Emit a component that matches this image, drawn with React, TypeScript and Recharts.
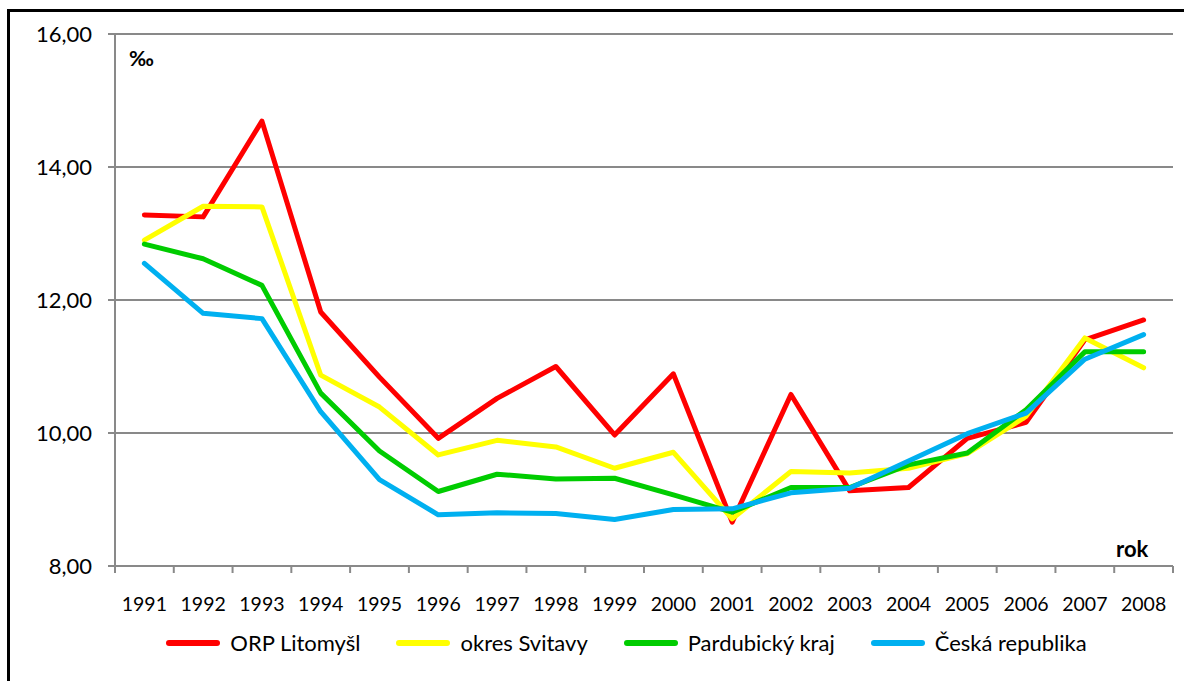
import { CartesianGrid, Legend, Line, LineChart, XAxis, YAxis } from "recharts";

const years = ["1991", "1992", "1993", "1994", "1995", "1996", "1997", "1998", "1999", "2000", "2001", "2002", "2003", "2004", "2005", "2006", "2007", "2008"];
const orp = [13.28, 13.25, 14.69, 11.82, 10.84, 9.92, 10.52, 11.0, 9.97, 10.89, 8.66, 10.58, 9.13, 9.18, 9.92, 10.16, 11.4, 11.7];
const okres = [12.9, 13.41, 13.4, 10.87, 10.39, 9.67, 9.89, 9.79, 9.47, 9.71, 8.71, 9.42, 9.4, 9.47, 9.69, 10.25, 11.43, 10.98];
const kraj = [12.84, 12.62, 12.22, 10.6, 9.73, 9.12, 9.38, 9.31, 9.32, 9.07, 8.81, 9.18, 9.18, 9.52, 9.7, 10.35, 11.22, 11.22];
const cr = [12.55, 11.8, 11.72, 10.32, 9.3, 8.77, 8.8, 8.79, 8.7, 8.85, 8.86, 9.1, 9.17, 9.58, 9.99, 10.3, 11.11, 11.48];
const yTicks = [8, 10, 12, 14, 16];

const series = [
  { key: "orp", name: "ORP Litomyšl", color: "#FF0000" },
  { key: "okres", name: "okres Svitavy", color: "#FFFF00" },
  { key: "kraj", name: "Pardubický kraj", color: "#00CC00" },
  { key: "cr", name: "Česká republika", color: "#00B0F0" },
];

const data = years.map((year, i) => ({
  year,
  orp: orp[i],
  okres: okres[i],
  kraj: kraj[i],
  cr: cr[i],
}));

const FONT = "Lato, 'Open Sans', sans-serif";
const GRAY = "#898989";
const W = 1184;
const H = 681;
const LEFT = 115;
const RIGHT = 11;
const band = (W - LEFT - RIGHT) / years.length;

function YearTick(props: any) {
  const { x, y, payload, index } = props;
  return (
    <g>
      <line x1={x - band / 2} y1={y} x2={x - band / 2} y2={y + 7} stroke={GRAY} strokeWidth={2} />
      {index === years.length - 1 && (
        <line x1={x + band / 2} y1={y} x2={x + band / 2} y2={y + 7} stroke={GRAY} strokeWidth={2} />
      )}
      <text x={x} y={y + 45} textAnchor="middle" fontSize={19.5} fill="#000" fontFamily={FONT}>
        {payload.value}
      </text>
    </g>
  );
}

function LegendContent() {
  return (
    <div style={{ display: "flex", justifyContent: "center", gap: 36, fontFamily: FONT, fontSize: 22, paddingTop: 8, paddingLeft: 80 }}>
      {series.map((s) => (
        <div key={s.key} style={{ display: "flex", alignItems: "center", gap: 10 }}>
          <span style={{ display: "inline-block", width: 54, height: 6, borderRadius: 3, background: s.color }} />
          <span>{s.name}</span>
        </div>
      ))}
    </div>
  );
}

export default function App() {
  return (
    <div style={{ position: "absolute", left: 0, top: 0, width: W, height: H, overflow: "hidden", background: "#fff" }}>
      <div style={{ position: "absolute", left: 7, top: 9, width: 1300, height: 800, borderLeft: "3px solid #000", borderTop: "3px solid #000" }} />
      <div style={{ position: "absolute", left: 0, top: 0 }}>
        <LineChart width={W} height={H} data={data} margin={{ top: 34, right: RIGHT, left: 0, bottom: 0 }}>
          <CartesianGrid vertical={false} stroke={GRAY} strokeWidth={2} />
          <XAxis
            dataKey="year"
            interval={0}
            height={55}
            tickSize={0}
            tickMargin={0}
            padding={{ left: band / 2, right: band / 2 }}
            tick={<YearTick />}
            axisLine={{ stroke: GRAY, strokeWidth: 2 }}
          />
          <YAxis
            width={LEFT}
            domain={[8, 16]}
            ticks={yTicks}
            tickFormatter={(v: number) => v.toFixed(2).replace(".", ",")}
            tick={{ fontSize: 22, fill: "#000", fontFamily: FONT }}
            tickSize={7}
            tickMargin={16}
            tickLine={{ stroke: GRAY, strokeWidth: 2 }}
            axisLine={{ stroke: GRAY, strokeWidth: 2 }}
          />
          <Legend verticalAlign="bottom" height={60} content={<LegendContent />} />
          {series.map((s) => (
            <Line
              key={s.key}
              type="linear"
              dataKey={s.key}
              name={s.name}
              stroke={s.color}
              strokeWidth={5}
              strokeLinejoin="round"
              strokeLinecap="round"
              dot={false}
              isAnimationActive={false}
            />
          ))}
        </LineChart>
      </div>
      <div style={{ position: "absolute", left: 129, top: 45, fontFamily: FONT, fontWeight: 700, fontSize: 21 }}>‰</div>
      <div style={{ position: "absolute", left: 1116, top: 535, fontFamily: FONT, fontWeight: 700, fontSize: 22 }}>rok</div>
    </div>
  );
}
